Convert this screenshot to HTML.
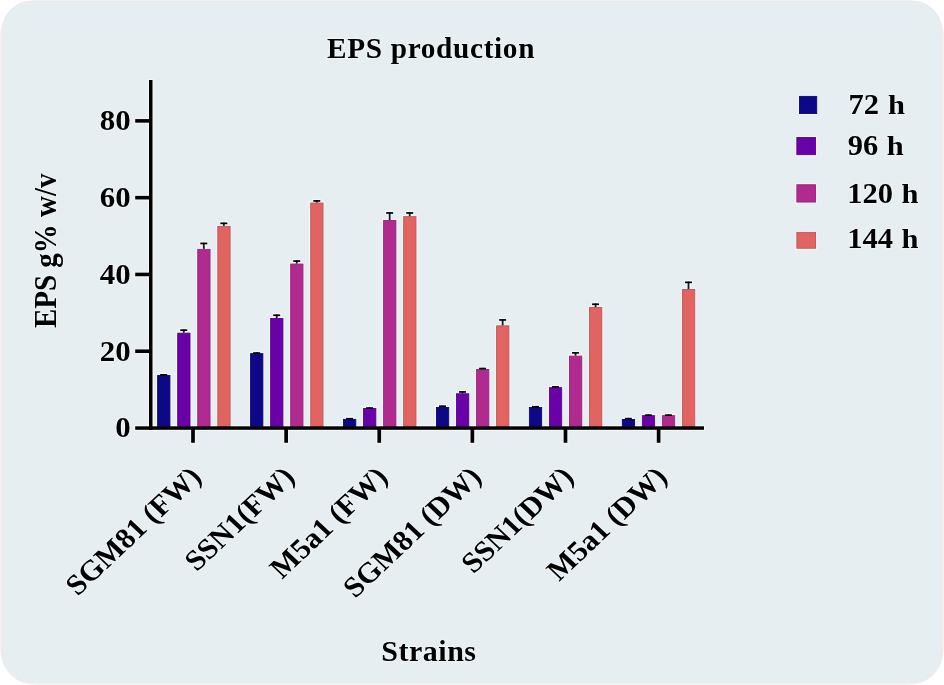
<!DOCTYPE html>
<html><head><meta charset="utf-8"><style>
html,body{margin:0;padding:0;background:#fff;width:944px;height:685px;overflow:hidden}
.frame{position:absolute;left:0;top:0;width:944px;height:685px;border-radius:36px;background:#f1f1f0}
.card{position:absolute;left:2.5px;top:2px;width:938.5px;height:680px;border-radius:28px;background:#e6eef1;box-shadow:0 0 0.8px 0.6px #eaeaea}
svg{position:absolute;left:0;top:0;will-change:transform}
text{font-family:"Liberation Serif", serif;font-weight:bold;fill:#000;stroke:rgba(250,253,255,0.6);stroke-width:1.6px;paint-order:stroke;stroke-linejoin:round}
text.r{paint-order:stroke;stroke-width:1.6px}
</style></head><body>
<div class="frame"></div><div class="card"></div>
<svg width="944" height="685" viewBox="0 0 944 685">
<g fill="#fff" fill-opacity="0.55"><rect x="156.10" y="373.90" width="15.40" height="54.00"/><rect x="161.70" y="373.00" width="4.00" height="3.10"/><rect x="159.10" y="372.90" width="9.20" height="3.90"/><rect x="176.15" y="331.60" width="15.40" height="96.30"/><rect x="181.75" y="328.30" width="4.00" height="5.50"/><rect x="179.15" y="328.20" width="9.20" height="3.90"/><rect x="196.20" y="247.80" width="15.40" height="180.10"/><rect x="201.80" y="241.60" width="4.00" height="8.40"/><rect x="199.20" y="241.50" width="9.20" height="3.90"/><rect x="216.25" y="224.80" width="15.40" height="203.10"/><rect x="221.85" y="221.50" width="4.00" height="5.50"/><rect x="219.25" y="221.40" width="9.20" height="3.90"/><rect x="249.03" y="352.10" width="15.40" height="75.80"/><rect x="254.63" y="351.20" width="4.00" height="3.10"/><rect x="252.03" y="351.10" width="9.20" height="3.90"/><rect x="269.08" y="316.90" width="15.40" height="111.00"/><rect x="274.68" y="313.40" width="4.00" height="5.70"/><rect x="272.08" y="313.30" width="9.20" height="3.90"/><rect x="289.13" y="262.50" width="15.40" height="165.40"/><rect x="294.73" y="259.20" width="4.00" height="5.50"/><rect x="292.13" y="259.10" width="9.20" height="3.90"/><rect x="309.18" y="201.50" width="15.40" height="226.40"/><rect x="314.78" y="199.10" width="4.00" height="4.60"/><rect x="312.18" y="199.00" width="9.20" height="3.90"/><rect x="341.96" y="417.80" width="15.40" height="10.10"/><rect x="347.56" y="416.90" width="4.00" height="3.10"/><rect x="344.96" y="416.80" width="9.20" height="3.90"/><rect x="362.01" y="407.00" width="15.40" height="20.90"/><rect x="367.61" y="406.20" width="4.00" height="3.00"/><rect x="365.01" y="406.10" width="9.20" height="3.90"/><rect x="382.06" y="218.90" width="15.40" height="209.00"/><rect x="387.66" y="211.10" width="4.00" height="10.00"/><rect x="385.06" y="211.00" width="9.20" height="3.90"/><rect x="402.11" y="215.10" width="15.40" height="212.80"/><rect x="407.71" y="211.10" width="4.00" height="6.20"/><rect x="405.11" y="211.00" width="9.20" height="3.90"/><rect x="434.89" y="405.90" width="15.40" height="22.00"/><rect x="440.49" y="404.40" width="4.00" height="3.70"/><rect x="437.89" y="404.30" width="9.20" height="3.90"/><rect x="454.94" y="392.20" width="15.40" height="35.70"/><rect x="460.54" y="390.10" width="4.00" height="4.30"/><rect x="457.94" y="390.00" width="9.20" height="3.90"/><rect x="474.99" y="368.00" width="15.40" height="59.90"/><rect x="480.59" y="366.70" width="4.00" height="3.50"/><rect x="477.99" y="366.60" width="9.20" height="3.90"/><rect x="495.04" y="324.30" width="15.40" height="103.60"/><rect x="500.64" y="318.10" width="4.00" height="8.40"/><rect x="498.04" y="318.00" width="9.20" height="3.90"/><rect x="527.82" y="405.90" width="15.40" height="22.00"/><rect x="533.42" y="404.90" width="4.00" height="3.20"/><rect x="530.82" y="404.80" width="9.20" height="3.90"/><rect x="547.87" y="386.10" width="15.40" height="41.80"/><rect x="553.47" y="385.10" width="4.00" height="3.20"/><rect x="550.87" y="385.00" width="9.20" height="3.90"/><rect x="567.92" y="354.60" width="15.40" height="73.30"/><rect x="573.52" y="351.00" width="4.00" height="5.80"/><rect x="570.92" y="350.90" width="9.20" height="3.90"/><rect x="587.97" y="306.00" width="15.40" height="121.90"/><rect x="593.57" y="302.40" width="4.00" height="5.80"/><rect x="590.97" y="302.30" width="9.20" height="3.90"/><rect x="620.75" y="417.90" width="15.40" height="10.00"/><rect x="626.35" y="416.80" width="4.00" height="3.30"/><rect x="623.75" y="416.70" width="9.20" height="3.90"/><rect x="640.80" y="414.10" width="15.40" height="13.80"/><rect x="646.40" y="413.30" width="4.00" height="3.00"/><rect x="643.80" y="413.20" width="9.20" height="3.90"/><rect x="660.85" y="414.10" width="15.40" height="13.80"/><rect x="666.45" y="413.30" width="4.00" height="3.00"/><rect x="663.85" y="413.20" width="9.20" height="3.90"/><rect x="680.90" y="288.00" width="15.40" height="139.90"/><rect x="686.50" y="280.50" width="4.00" height="9.70"/><rect x="683.90" y="280.40" width="9.20" height="3.90"/><rect x="147.90" y="78.90" width="5.70" height="352.20"/><rect x="134.10" y="425.20" width="571.00" height="5.70"/><rect x="134.10" y="348.32" width="17.20" height="5.80"/><rect x="134.10" y="271.54" width="17.20" height="5.80"/><rect x="134.10" y="194.76" width="17.20" height="5.80"/><rect x="134.10" y="117.98" width="17.20" height="5.80"/><rect x="190.05" y="426.90" width="5.90" height="17.00"/><rect x="283.17" y="426.90" width="5.90" height="17.00"/><rect x="376.29" y="426.90" width="5.90" height="17.00"/><rect x="469.41" y="426.90" width="5.90" height="17.00"/><rect x="562.53" y="426.90" width="5.90" height="17.00"/><rect x="655.65" y="426.90" width="5.90" height="17.00"/><rect x="797.90" y="94.80" width="20.40" height="20.30"/><rect x="795.30" y="135.90" width="21.80" height="20.30"/><rect x="795.30" y="183.20" width="21.80" height="20.40"/><rect x="795.30" y="230.80" width="21.80" height="19.00"/></g>
<rect x="157.65" y="375.45" width="12.30" height="50.90" fill="#0d0887" stroke="#0b0672" stroke-width="0.9"/>
<rect x="162.80" y="374.10" width="1.80" height="0.90" fill="#1a1a1a"/>
<rect x="160.20" y="374.00" width="7.00" height="1.70" fill="#000"/>
<rect x="177.70" y="333.15" width="12.30" height="93.20" fill="#6a00a8" stroke="#5a008e" stroke-width="0.9"/>
<rect x="182.85" y="329.40" width="1.80" height="3.30" fill="#1a1a1a"/>
<rect x="180.25" y="329.30" width="7.00" height="1.70" fill="#000"/>
<rect x="197.75" y="249.35" width="12.30" height="177.00" fill="#b12a90" stroke="#96237a" stroke-width="0.9"/>
<rect x="202.90" y="242.70" width="1.80" height="6.20" fill="#1a1a1a"/>
<rect x="200.30" y="242.60" width="7.00" height="1.70" fill="#000"/>
<rect x="217.80" y="226.35" width="12.30" height="200.00" fill="#e16462" stroke="#bf5553" stroke-width="0.9"/>
<rect x="222.95" y="222.60" width="1.80" height="3.30" fill="#1a1a1a"/>
<rect x="220.35" y="222.50" width="7.00" height="1.70" fill="#000"/>
<rect x="250.58" y="353.65" width="12.30" height="72.70" fill="#0d0887" stroke="#0b0672" stroke-width="0.9"/>
<rect x="255.73" y="352.30" width="1.80" height="0.90" fill="#1a1a1a"/>
<rect x="253.13" y="352.20" width="7.00" height="1.70" fill="#000"/>
<rect x="270.63" y="318.45" width="12.30" height="107.90" fill="#6a00a8" stroke="#5a008e" stroke-width="0.9"/>
<rect x="275.78" y="314.50" width="1.80" height="3.50" fill="#1a1a1a"/>
<rect x="273.18" y="314.40" width="7.00" height="1.70" fill="#000"/>
<rect x="290.68" y="264.05" width="12.30" height="162.30" fill="#b12a90" stroke="#96237a" stroke-width="0.9"/>
<rect x="295.83" y="260.30" width="1.80" height="3.30" fill="#1a1a1a"/>
<rect x="293.23" y="260.20" width="7.00" height="1.70" fill="#000"/>
<rect x="310.73" y="203.05" width="12.30" height="223.30" fill="#e16462" stroke="#bf5553" stroke-width="0.9"/>
<rect x="315.88" y="200.20" width="1.80" height="2.40" fill="#1a1a1a"/>
<rect x="313.28" y="200.10" width="7.00" height="1.70" fill="#000"/>
<rect x="343.51" y="419.35" width="12.30" height="7.00" fill="#0d0887" stroke="#0b0672" stroke-width="0.9"/>
<rect x="348.66" y="418.00" width="1.80" height="0.90" fill="#1a1a1a"/>
<rect x="346.06" y="417.90" width="7.00" height="1.70" fill="#000"/>
<rect x="363.56" y="408.55" width="12.30" height="17.80" fill="#6a00a8" stroke="#5a008e" stroke-width="0.9"/>
<rect x="368.71" y="407.30" width="1.80" height="0.80" fill="#1a1a1a"/>
<rect x="366.11" y="407.20" width="7.00" height="1.70" fill="#000"/>
<rect x="383.61" y="220.45" width="12.30" height="205.90" fill="#b12a90" stroke="#96237a" stroke-width="0.9"/>
<rect x="388.76" y="212.20" width="1.80" height="7.80" fill="#1a1a1a"/>
<rect x="386.16" y="212.10" width="7.00" height="1.70" fill="#000"/>
<rect x="403.66" y="216.65" width="12.30" height="209.70" fill="#e16462" stroke="#bf5553" stroke-width="0.9"/>
<rect x="408.81" y="212.20" width="1.80" height="4.00" fill="#1a1a1a"/>
<rect x="406.21" y="212.10" width="7.00" height="1.70" fill="#000"/>
<rect x="436.44" y="407.45" width="12.30" height="18.90" fill="#0d0887" stroke="#0b0672" stroke-width="0.9"/>
<rect x="441.59" y="405.50" width="1.80" height="1.50" fill="#1a1a1a"/>
<rect x="438.99" y="405.40" width="7.00" height="1.70" fill="#000"/>
<rect x="456.49" y="393.75" width="12.30" height="32.60" fill="#6a00a8" stroke="#5a008e" stroke-width="0.9"/>
<rect x="461.64" y="391.20" width="1.80" height="2.10" fill="#1a1a1a"/>
<rect x="459.04" y="391.10" width="7.00" height="1.70" fill="#000"/>
<rect x="476.54" y="369.55" width="12.30" height="56.80" fill="#b12a90" stroke="#96237a" stroke-width="0.9"/>
<rect x="481.69" y="367.80" width="1.80" height="1.30" fill="#1a1a1a"/>
<rect x="479.09" y="367.70" width="7.00" height="1.70" fill="#000"/>
<rect x="496.59" y="325.85" width="12.30" height="100.50" fill="#e16462" stroke="#bf5553" stroke-width="0.9"/>
<rect x="501.74" y="319.20" width="1.80" height="6.20" fill="#1a1a1a"/>
<rect x="499.14" y="319.10" width="7.00" height="1.70" fill="#000"/>
<rect x="529.37" y="407.45" width="12.30" height="18.90" fill="#0d0887" stroke="#0b0672" stroke-width="0.9"/>
<rect x="534.52" y="406.00" width="1.80" height="1.00" fill="#1a1a1a"/>
<rect x="531.92" y="405.90" width="7.00" height="1.70" fill="#000"/>
<rect x="549.42" y="387.65" width="12.30" height="38.70" fill="#6a00a8" stroke="#5a008e" stroke-width="0.9"/>
<rect x="554.57" y="386.20" width="1.80" height="1.00" fill="#1a1a1a"/>
<rect x="551.97" y="386.10" width="7.00" height="1.70" fill="#000"/>
<rect x="569.47" y="356.15" width="12.30" height="70.20" fill="#b12a90" stroke="#96237a" stroke-width="0.9"/>
<rect x="574.62" y="352.10" width="1.80" height="3.60" fill="#1a1a1a"/>
<rect x="572.02" y="352.00" width="7.00" height="1.70" fill="#000"/>
<rect x="589.52" y="307.55" width="12.30" height="118.80" fill="#e16462" stroke="#bf5553" stroke-width="0.9"/>
<rect x="594.67" y="303.50" width="1.80" height="3.60" fill="#1a1a1a"/>
<rect x="592.07" y="303.40" width="7.00" height="1.70" fill="#000"/>
<rect x="622.30" y="419.45" width="12.30" height="6.90" fill="#0d0887" stroke="#0b0672" stroke-width="0.9"/>
<rect x="627.45" y="417.90" width="1.80" height="1.10" fill="#1a1a1a"/>
<rect x="624.85" y="417.80" width="7.00" height="1.70" fill="#000"/>
<rect x="642.35" y="415.65" width="12.30" height="10.70" fill="#6a00a8" stroke="#5a008e" stroke-width="0.9"/>
<rect x="647.50" y="414.40" width="1.80" height="0.80" fill="#1a1a1a"/>
<rect x="644.90" y="414.30" width="7.00" height="1.70" fill="#000"/>
<rect x="662.40" y="415.65" width="12.30" height="10.70" fill="#b12a90" stroke="#96237a" stroke-width="0.9"/>
<rect x="667.55" y="414.40" width="1.80" height="0.80" fill="#1a1a1a"/>
<rect x="664.95" y="414.30" width="7.00" height="1.70" fill="#000"/>
<rect x="682.45" y="289.55" width="12.30" height="136.80" fill="#e16462" stroke="#bf5553" stroke-width="0.9"/>
<rect x="687.60" y="281.60" width="1.80" height="7.50" fill="#1a1a1a"/>
<rect x="685.00" y="281.50" width="7.00" height="1.70" fill="#000"/>
<rect x="149.00" y="80.00" width="3.50" height="350.00" fill="#000"/>
<rect x="135.20" y="426.30" width="568.80" height="3.50" fill="#000"/>
<rect x="135.20" y="349.42" width="15.00" height="3.60" fill="#000"/>
<rect x="135.20" y="272.64" width="15.00" height="3.60" fill="#000"/>
<rect x="135.20" y="195.86" width="15.00" height="3.60" fill="#000"/>
<rect x="135.20" y="119.08" width="15.00" height="3.60" fill="#000"/>
<rect x="191.15" y="428.00" width="3.70" height="14.80" fill="#000"/>
<rect x="284.27" y="428.00" width="3.70" height="14.80" fill="#000"/>
<rect x="377.39" y="428.00" width="3.70" height="14.80" fill="#000"/>
<rect x="470.51" y="428.00" width="3.70" height="14.80" fill="#000"/>
<rect x="563.63" y="428.00" width="3.70" height="14.80" fill="#000"/>
<rect x="656.75" y="428.00" width="3.70" height="14.80" fill="#000"/>
<rect x="799.45" y="96.35" width="17.30" height="17.20" fill="#0d0887" stroke="#0b0672" stroke-width="0.9"/>
<rect x="796.85" y="137.45" width="18.70" height="17.20" fill="#6a00a8" stroke="#5a008e" stroke-width="0.9"/>
<rect x="796.85" y="184.75" width="18.70" height="17.30" fill="#b12a90" stroke="#96237a" stroke-width="0.9"/>
<rect x="796.85" y="232.35" width="18.70" height="15.90" fill="#e16462" stroke="#bf5553" stroke-width="0.9"/>
<text transform="translate(130.60,437.40) scale(1.045,1)" text-anchor="end" font-size="29.6">0</text>
<text transform="translate(130.60,360.62) scale(1.045,1)" text-anchor="end" font-size="29.6">20</text>
<text transform="translate(130.60,283.84) scale(1.045,1)" text-anchor="end" font-size="29.6">40</text>
<text transform="translate(130.60,207.06) scale(1.045,1)" text-anchor="end" font-size="29.6">60</text>
<text transform="translate(130.60,130.28) scale(1.045,1)" text-anchor="end" font-size="29.6">80</text>
<text transform="translate(431.10,57.50) scale(1.0,1)" text-anchor="middle" font-size="29.3" letter-spacing="0.65">EPS production</text>
<text transform="translate(428.90,660.60) scale(1.0,1)" text-anchor="middle" font-size="30" letter-spacing="0.5">Strains</text>
<text class="r" transform="translate(56.00,250.80) scale(1.07,1) rotate(-90)" text-anchor="middle" font-size="29">EPS g% w/v</text>
<text class="r" transform="translate(203.00,478.50) scale(1.06,1) rotate(-45)" text-anchor="end" font-size="28.8">SGM81 (FW)</text>
<text class="r" transform="translate(296.30,478.50) scale(1.06,1) rotate(-45)" text-anchor="end" font-size="28.8">SSN1(FW)</text>
<text class="r" transform="translate(389.30,478.50) scale(1.06,1) rotate(-45)" text-anchor="end" font-size="28.8">M5a1 (FW)</text>
<text class="r" transform="translate(482.90,478.50) scale(1.06,1) rotate(-45)" text-anchor="end" font-size="28.8">SGM81 (DW)</text>
<text class="r" transform="translate(575.30,478.50) scale(1.06,1) rotate(-45)" text-anchor="end" font-size="28.8">SSN1(DW)</text>
<text class="r" transform="translate(668.70,478.50) scale(1.06,1) rotate(-45)" text-anchor="end" font-size="28.8">M5a1 (DW)</text>
<text transform="translate(848.60,113.60) scale(1.045,1)" text-anchor="start" font-size="29.2">72</text>
<text transform="translate(888.10,113.60) scale(1.045,0.91)" font-size="29.2">h</text>
<text transform="translate(847.70,154.80) scale(1.045,1)" text-anchor="start" font-size="29.2">96</text>
<text transform="translate(886.80,154.80) scale(1.045,0.91)" font-size="29.2">h</text>
<text transform="translate(847.30,202.50) scale(1.045,1)" text-anchor="start" font-size="29.2">120</text>
<text transform="translate(901.40,202.50) scale(1.045,0.91)" font-size="29.2">h</text>
<text transform="translate(847.30,248.30) scale(1.045,1)" text-anchor="start" font-size="29.2">144</text>
<text transform="translate(901.40,248.30) scale(1.045,0.91)" font-size="29.2">h</text>
</svg>
</body></html>
